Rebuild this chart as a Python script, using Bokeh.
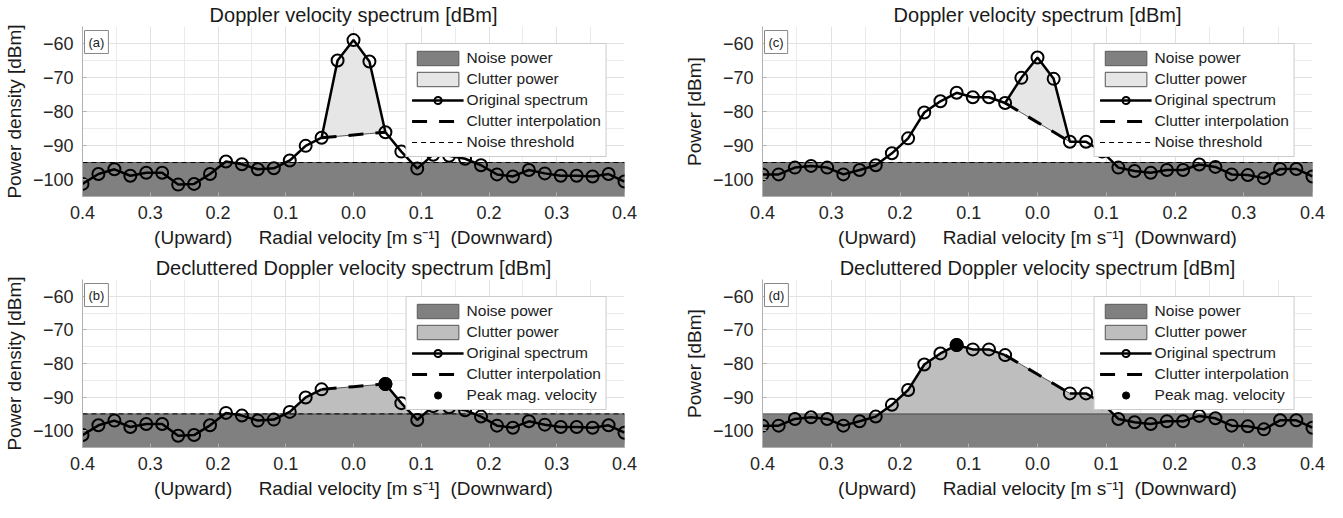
import numpy as np
from bokeh.plotting import figure
from bokeh.models import Range1d, FixedTicker, CustomJSTickFormatter, Legend, LegendItem, Label
from bokeh.layouts import column, row
from bokeh.embed import file_html
from bokeh.resources import INLINE

# ---------------- data ----------------
velocity = [-0.4, -0.3765, -0.3529, -0.3294, -0.3059, -0.2824, -0.2588, -0.2353, -0.2118,
            -0.1882, -0.1647, -0.1412, -0.1176, -0.0941, -0.0706, -0.0471, -0.0235, 0.0,
            0.0235, 0.0471, 0.0706, 0.0941, 0.1176, 0.1412, 0.1647, 0.1882, 0.2118, 0.2353,
            0.2588, 0.2824, 0.3059, 0.3294, 0.3529, 0.3765, 0.4]

# panels (a)/(b): power density [dBm]
spectrum_ab = [-101.3, -98.4, -97.0, -98.9, -98.0, -98.0, -101.5, -101.3, -98.4, -94.7,
               -95.5, -97.0, -96.7, -94.4, -90.1, -87.7, -65.0, -59.0, -65.3, -86.1,
               -91.8, -96.8, -92.7, -93.0, -93.9, -95.8, -98.5, -99.1, -97.2, -98.2,
               -98.9, -98.9, -99.1, -98.4, -100.6]

# panels (c)/(d): power [dBm]
spectrum_cd = [-98.5, -98.5, -96.5, -96.0, -96.5, -98.5, -97.2, -95.8, -92.3, -87.9,
               -80.3, -77.0, -74.5, -75.8, -75.8, -77.5, -70.1, -64.1, -70.4, -88.9,
               -88.9, -91.8, -96.5, -97.5, -98.0, -97.2, -97.2, -95.6, -96.3, -98.5,
               -98.7, -99.6, -96.9, -96.9, -99.1]

clutter_bins = [16, 17, 18]
noise_threshold = -95.0

x_ticks = [-0.4, -0.3, -0.2, -0.1, 0.0, 0.1, 0.2, 0.3, 0.4]
x_minor = [-0.35, -0.25, -0.15, -0.05, 0.05, 0.15, 0.25, 0.35]
y_ticks = [-100, -90, -80, -70, -60]
y_minor = [-105, -95, -85, -75, -65, -55]

FONT = "Liberation Sans"
TXT = "#262626"
NOISE_FILL = "#808080"
CLUTTER_LIGHT = "#e6e6e6"
CLUTTER_MID = "#bebebe"
XLABEL = "(Upward)\u00a0\u00a0\u00a0\u00a0\u00a0Radial velocity [m s\u207b\u00b9]\u00a0\u00a0(Downward)"


def interp_line(spec):
    i0, i1 = clutter_bins[0] - 1, clutter_bins[-1] + 1
    xs = np.array(velocity[i0:i1 + 1])
    ys = np.interp(xs, [velocity[i0], velocity[i1]], [spec[i0], spec[i1]])
    return i0, i1, xs, ys


def runs_above(x, y, thr):
    polys_x, polys_y = [], []
    cx, cy = [], []
    for i in range(len(x)):
        if y[i] > thr:
            if not cx:
                if i > 0:
                    t = (thr - y[i - 1]) / (y[i] - y[i - 1])
                    cx.append(x[i - 1] + t * (x[i] - x[i - 1]))
                else:
                    cx.append(x[i])
                cy.append(thr)
            cx.append(x[i]); cy.append(y[i])
        else:
            if cx:
                t = (thr - y[i - 1]) / (y[i] - y[i - 1])
                cx.append(x[i - 1] + t * (x[i] - x[i - 1])); cy.append(thr)
                polys_x.append(cx); polys_y.append(cy)
                cx, cy = [], []
    if cx:
        cx.append(x[-1]); cy.append(thr)
        polys_x.append(cx); polys_y.append(cy)
    return polys_x, polys_y


def make_panel(spec, decluttered, tag, title, ylabel, width, height, left, right, top, bottom):
    p = figure(width=width, height=height,
               x_range=Range1d(min(velocity), max(velocity)),
               y_range=Range1d(y_minor[0], y_minor[-1]),
               output_backend="svg", toolbar_location=None,
               min_border_left=left, min_border_right=right,
               min_border_top=top, min_border_bottom=bottom)
    p.outline_line_color = None
    p.background_fill_color = "white"

    # title
    p.title.text = title
    p.title.align = "center"
    p.title.text_font = FONT
    p.title.text_font_size = "20px"
    p.title.text_font_style = "normal"
    p.title.text_color = "#1a1a1a"
    p.title.standoff = 2

    # axes
    p.xaxis.ticker = FixedTicker(ticks=x_ticks, minor_ticks=x_minor)
    p.yaxis.ticker = FixedTicker(ticks=y_ticks, minor_ticks=y_minor)
    p.xaxis.formatter = CustomJSTickFormatter(code="return Math.abs(tick).toFixed(1);")
    for ax in (p.xaxis[0], p.yaxis[0]):
        ax.major_label_text_font = FONT
        ax.major_label_text_font_size = "18px"
        ax.major_label_text_color = TXT
        ax.axis_label_text_font = FONT
        ax.axis_label_text_font_size = "19px"
        ax.axis_label_text_font_style = "normal"
        ax.axis_label_text_color = "#1a1a1a"
        ax.axis_line_color = "#b0b0b0"
        ax.major_tick_line_color = "#b0b0b0"
        ax.major_tick_out = 0
        ax.major_tick_in = 4
        ax.minor_tick_line_color = None
        ax.major_label_standoff = 5
        ax.axis_label_standoff = 5
    p.xaxis.axis_label = XLABEL
    p.yaxis.axis_label = ylabel

    for g in (p.xgrid[0], p.ygrid[0]):
        g.grid_line_color = "#e2e2e2"
        g.minor_grid_line_color = "#ebebeb"

    thr = noise_threshold
    vmin, vmax = min(velocity), max(velocity)
    noise_r = p.quad(left=[vmin], right=[vmax], bottom=[y_minor[0]], top=[thr],
                     fill_color=NOISE_FILL, line_color="#5a5a5a", line_width=1)

    i0, i1, ix, iy = interp_line(spec)
    items = [LegendItem(label="Noise power", renderers=[noise_r])]

    if not decluttered:
        px = list(velocity[i0:i1 + 1]) + list(ix[::-1])
        py = list(spec[i0:i1 + 1]) + list(iy[::-1])
        clut_r = p.patch(px, py, fill_color=CLUTTER_LIGHT, line_color="#555555", line_width=1)
        thr_r = p.line([vmin, vmax], [thr, thr], line_color="black", line_width=1, line_dash="5 4")
        int_r = p.line(list(ix), list(iy), line_color="black", line_width=3, line_dash="15 12")
        line_r = p.line(velocity, spec, line_color="black", line_width=2.5)
        mk_r = p.scatter(velocity, spec, size=12, marker="circle", fill_color=None,
                         line_color="black", line_width=2)
        items += [LegendItem(label="Clutter power", renderers=[clut_r]),
                  LegendItem(label="Original spectrum", renderers=[line_r, mk_r]),
                  LegendItem(label="Clutter interpolation", renderers=[int_r]),
                  LegendItem(label="Noise threshold", renderers=[thr_r])]
    else:
        dec = np.array(spec, dtype=float)
        dec[clutter_bins] = iy[1:-1]
        gap = np.array(spec, dtype=float)
        gap[clutter_bins] = np.nan
        fx, fy = runs_above(velocity, dec, thr)
        clut_r = p.patches(fx, fy, fill_color=CLUTTER_MID, line_color="#555555", line_width=1)
        if tag == "(b)":
            p.line([vmin, vmax], [thr, thr], line_color="black", line_width=1, line_dash="5 4")
        int_r = p.line(list(ix), list(iy), line_color="black", line_width=3, line_dash="15 12")
        line_r = p.line(velocity, list(gap), line_color="black", line_width=2.5)
        mk_r = p.scatter(velocity, list(gap), size=12, marker="circle", fill_color=None,
                         line_color="black", line_width=2)
        k = int(np.argmax(dec))
        pk_r = p.scatter([velocity[k]], [dec[k]], size=13, marker="circle",
                         fill_color="black", line_color="black")
        items += [LegendItem(label="Clutter power", renderers=[clut_r]),
                  LegendItem(label="Original spectrum", renderers=[line_r, mk_r]),
                  LegendItem(label="Clutter interpolation", renderers=[int_r]),
                  LegendItem(label="Peak mag. velocity", renderers=[pk_r])]

    legend = Legend(items=items, location="top_right", margin=17,
                    glyph_width=52, glyph_height=18, spacing=3, padding=5,
                    label_standoff=3, label_text_font=FONT, label_text_font_size="15.5px",
                    label_text_color="#222222", border_line_color="#9a9a9a",
                    background_fill_color="white", background_fill_alpha=1.0,
                    label_height=18)
    p.add_layout(legend)

    p.add_layout(Label(x=vmin, y=y_minor[-1], x_offset=2, y_offset=-4, text=tag,
                       text_font=FONT, text_font_size="13px", text_color="#222222",
                       text_align="left", text_baseline="top",
                       border_line_color="#888888", background_fill_color="white",
                       padding=4))
    return p


pa = make_panel(spectrum_ab, False, "(a)", "Doppler velocity spectrum [dBm]",
                "Power density [dBm]", 680, 250, 68, 56, 22, 53)
pc = make_panel(spectrum_cd, False, "(c)", "Doppler velocity spectrum [dBm]",
                "Power [dBm]", 646, 250, 77, 14, 22, 53)
pb = make_panel(spectrum_ab, True, "(b)", "Decluttered Doppler velocity spectrum [dBm]",
                "Power density [dBm]", 680, 251, 68, 56, 29, 52)
pd = make_panel(spectrum_cd, True, "(d)", "Decluttered Doppler velocity spectrum [dBm]",
                "Power [dBm]", 646, 251, 77, 14, 29, 52)

layout = column(row(pa, pc), row(pb, pd))
open("out.html", "w").write(file_html(layout, INLINE))
